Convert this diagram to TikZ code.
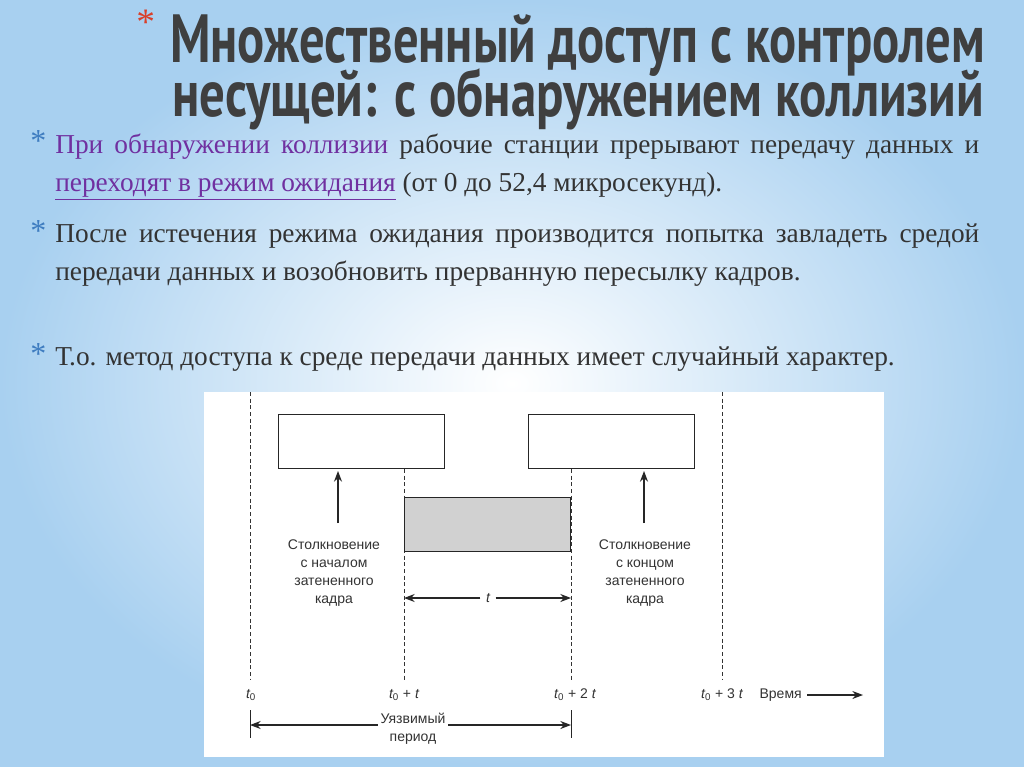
\documentclass[tikz,border=0pt]{standalone}
\usepackage{fontspec}
\setmainfont{Liberation Serif}
\newfontfamily\titlefont{PT Sans}
\newfontfamily\diagfont{Liberation Sans}
\usetikzlibrary{arrows.meta}
\definecolor{bgblue}{HTML}{A8D0F0}
\definecolor{titlegray}{HTML}{3F3F3F}
\definecolor{starblue}{HTML}{3E7CC0}
\definecolor{purp}{HTML}{7030A0}
\definecolor{startred}{HTML}{D9402A}
\begin{document}
\begin{tikzpicture}[x=0.75pt,y=-0.75pt,
  dline/.style={dashed,line width=0.6pt,black!80,dash pattern=on 3pt off 2pt},
  frame/.style={draw=black!85,line width=0.9pt},
  dtext/.style={font=\diagfont\fontsize{10.5}{13.5}\selectfont,text=black!80,align=center,inner sep=1pt},
  arr/.style={-{Stealth[length=8pt,width=6pt]},line width=0.9pt,black!85},
  star/.style={font=\fontsize{24}{24}\selectfont,text=starblue,inner sep=0pt,anchor=north west},
  body/.style={font=\fontsize{20.5}{28.5}\selectfont,text=black!80,text width=693pt,align=justify,anchor=north west,inner sep=0pt}]
\useasboundingbox (0,0) rectangle (1024,767);
\shade[inner color=white,outer color=bgblue] (0,0) rectangle (1024,767);
% title
\node[font=\fontsize{28}{28}\selectfont,text=startred,anchor=north west,inner sep=0pt] (tstar) at (136,10) {*};
\node[font=\titlefont\bfseries\fontsize{41}{41}\selectfont,text=titlegray,anchor=north west,inner sep=0pt] (t1) at (170,14) {\resizebox{611pt}{36pt}{Множественный доступ с контролем}};
\node[font=\titlefont\bfseries\fontsize{41}{41}\selectfont,text=titlegray,anchor=north west,inner sep=0pt] (t2) at (172,68) {\resizebox{609pt}{36pt}{несущей: с обнаружением коллизий}};
% body
\node[star] (s1) at (30,130) {*};
\node[body] (b1) at (55,134) {\textcolor{purp}{При обнаружении коллизии} рабочие станции прерывают передачу данных и \textcolor{purp}{\underline{переходят в режим ожидания}} (от 0 до 52,4 микросекунд).};
\node[star] (s2) at (30,220) {*};
\node[body] (b2) at (55,224) {После истечения режима ожидания производится попытка завладеть средой передачи данных и возобновить прерванную пересылку кадров.};
\node[star] (s3) at (30,343) {*};
\node[body] (b3) at (55,347) {Т.о. метод доступа к среде передачи данных имеет случайный характер.};
% diagram
\fill[white] (204,392) rectangle (884,757);
\draw[dline] (250,392) -- (250,680);
\draw[dline] (404,469) -- (404,680);
\draw[dline] (571,469) -- (571,680);
\draw[dline] (722,392) -- (722,680);
\node[frame,minimum width=125pt,minimum height=41pt,inner sep=0pt] (bl) at (361.5,441.5) {};
\node[frame,minimum width=125pt,minimum height=41pt,inner sep=0pt] (br) at (611.5,441.5) {};
\node[frame,fill=black!18,minimum width=125pt,minimum height=41pt,inner sep=0pt] (bg) at (487.5,524.5) {};
\node[dtext] (ll) at (334,573) {Столкновение\\с началом\\затененного\\кадра};
\node[dtext] (lr) at (645,573) {Столкновение\\с концом\\затененного\\кадра};
\coordinate (al) at (338,523); \coordinate (alt) at (338,471);
\coordinate (ar) at (644,523); \coordinate (art) at (644,471);
\draw[arr] (al) -- (alt);
\draw[arr] (ar) -- (art);
\node[dtext,fill=white,inner sep=4pt] (tl) at (488,598) {\itshape t};
\coordinate (ta) at (404,598); \coordinate (tb) at (571,598);
\draw[arr] (tl) -- (ta);
\draw[arr] (tl) -- (tb);
\node[dtext] (x0) at (251,695) {\itshape t\textsubscript{\upshape 0}};
\node[dtext] (x1) at (404,695) {\itshape t\textsubscript{\upshape 0}\upshape{} + \itshape t};
\node[dtext] (x2) at (575,695) {\itshape t\textsubscript{\upshape 0}\upshape{} + 2 \itshape t};
\node[dtext] (x3) at (722,695) {\itshape t\textsubscript{\upshape 0}\upshape{} + 3 \itshape t};
\node[dtext,anchor=west] (vr) at (758,695) {Время};
\coordinate (ve) at (863,695);
\draw[arr] ([xshift=3pt]vr.east) -- (ve);
\draw[line width=0.6pt,black!85] (250,710) -- (250,738);
\draw[line width=0.6pt,black!85] (571,710) -- (571,738);
\node[dtext,fill=white,inner sep=2pt] (vp) at (413,729) {Уязвимый\\период};
\coordinate (va) at (250,725); \coordinate (vb) at (571,725);
\draw[arr] (vp.west |- va) -- (va);
\draw[arr] (vp.east |- vb) -- (vb);
\end{tikzpicture}
\end{document}
